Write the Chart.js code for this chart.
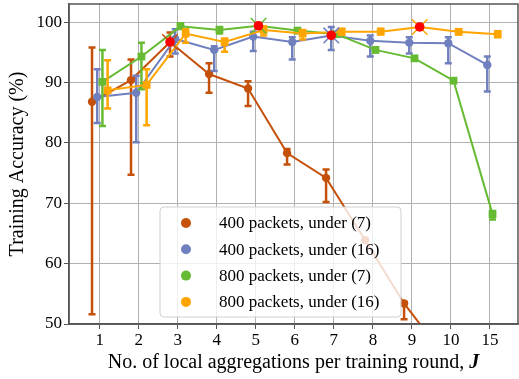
<!DOCTYPE html>
<html>
<head>
<meta charset="utf-8">
<script src="https://cdn.jsdelivr.net/npm/chart.js@4"></script>
<style>
  html, body { margin: 0; padding: 0; background: #fff; }
  #wrap { width: 519px; height: 379px; }
</style>
</head>
<body>
<div id="wrap"><canvas id="accChart" width="519" height="379"></canvas></div>
<script>
// x categories (J)
const xLabels = ['1', '2', '3', '4', '5', '6', '7', '8', '9', '10', '15'];
const yTicks = [50, 60, 70, 80, 90, 100];

const seriesNames = [
    '400 packets, under (7)',
    '400 packets, under (16)',
    '800 packets, under (7)',
    '800 packets, under (16)'
];

// mean accuracy (%)
const acc400u7  = [86.8, 90.4, 96.7, 91.4, 89.0, 78.3, 74.2, 63.9, 53.4, 45.0, 40.0];
const acc400u16 = [87.6, 88.3, 97.2, 95.4, 97.6, 96.7, 97.8, 96.9, 96.6, 96.5, 92.9];
const acc800u7  = [90.1, 94.3, 99.3, 98.7, 99.4, 98.6, 98.0, 95.4, 94.0, 90.3, 68.2];
const acc800u16 = [88.7, 89.6, 98.1, 96.7, 98.7, 98.1, 98.4, 98.4, 99.2, 98.4, 98.0];

// error bar ranges
const low400u7   = [51.6, 74.7, 94.3, 88.3, 86.1, 76.4, 70.2, 63.9, 50.8, 45.0, 40.0];
const high400u7  = [95.8, 93.8, 98.3, 93.2, 90.2, 79.0, 75.6, 63.9, 53.7, 45.0, 40.0];
const low400u16  = [83.3, 80.1, 94.8, 91.9, 95.2, 93.8, 95.4, 94.3, 94.8, 93.2, 88.5];
const high400u16 = [92.2, 91.1, 98.8, 96.0, 98.4, 97.5, 99.2, 97.8, 97.5, 97.5, 94.3];
const low800u7   = [82.8, 88.9, 99.0, 98.1, 99.0, 98.2, 97.6, 95.0, 93.7, 90.0, 67.3];
const high800u7  = [95.4, 96.6, 99.8, 99.2, 99.8, 99.0, 98.4, 95.8, 94.3, 90.6, 68.7];
const low800u16  = [85.7, 82.9, 96.6, 95.1, 97.8, 97.1, 97.9, 98.0, 98.8, 98.0, 97.5];
const high800u16 = [93.7, 92.2, 98.8, 97.3, 99.3, 98.7, 98.9, 98.9, 99.6, 98.8, 98.5];

const means = [acc400u7, acc400u16, acc800u7, acc800u16];
const lows = [low400u7, low400u16, low800u7, low800u16];
const highs = [high400u7, high400u16, high800u7, high800u16];
const colors = ['#c4500a', '#7080bf', '#66bb33', '#ffa500'];
const shifts = [-0.2, -0.067, 0.067, 0.2];
const markers = ['circle', 'circle', 'rect', 'rect'];

const FONT = "'Liberation Serif', 'Times New Roman', serif";

function pts(arr, k) {
    return arr.map((v, i) => ({ x: i + shifts[k], y: v }));
}

// best point of each series
const bestPts = means.map((arr, k) => {
    let b = 0;
    arr.forEach((v, i) => { if (v > arr[b]) b = i; });
    return { x: b + shifts[k], y: arr[b] };
});

const datasets = means.map((arr, k) => ({
    label: seriesNames[k],
    data: pts(arr, k),
    borderColor: colors[k],
    backgroundColor: colors[k],
    borderWidth: 2,
    pointStyle: markers[k],
    pointRadius: markers[k] === 'rect' ? 5.5 : 4.2,
    pointBorderWidth: 0,
    order: 10 - k,
    errIdx: k
}));

datasets.push({
    label: 'best-cross',
    data: bestPts,
    showLine: false,
    pointStyle: 'crossRot',
    pointRadius: 11,
    pointBorderColor: colors,
    pointBorderWidth: 1.5,
    order: 1
});
datasets.push({
    label: 'best',
    data: bestPts,
    showLine: false,
    pointStyle: 'circle',
    pointRadius: 4.8,
    pointBackgroundColor: '#ff0000',
    pointBorderWidth: 0,
    order: 0
});

// error bars drawn right after each series
const errorBars = {
    id: 'errorBars',
    afterDatasetDraw(chart, args) {
        const ds = chart.data.datasets[args.index];
        if (ds.errIdx === undefined) return;
        const k = ds.errIdx;
        const { ctx, chartArea, scales } = chart;
        ctx.save();
        ctx.beginPath();
        ctx.rect(chartArea.left, chartArea.top, chartArea.right - chartArea.left, chartArea.bottom - chartArea.top);
        ctx.clip();
        ctx.strokeStyle = colors[k];
        ctx.lineWidth = 2.5;
        lows[k].forEach((lo, i) => {
            const hi = highs[k][i];
            if (hi - lo < 0.05) return;
            const x = scales.x.getPixelForValue(i + shifts[k]);
            const y1 = scales.y.getPixelForValue(lo);
            const y2 = scales.y.getPixelForValue(hi);
            ctx.beginPath();
            ctx.moveTo(x, y1); ctx.lineTo(x, y2);
            ctx.moveTo(x - 3.5, y1); ctx.lineTo(x + 3.5, y1);
            ctx.moveTo(x - 3.5, y2); ctx.lineTo(x + 3.5, y2);
            ctx.stroke();
        });
        ctx.restore();
    }
};

// frame, axis titles and in-plot legend
const decorations = {
    id: 'decorations',
    afterDraw(chart) {
        const { ctx, chartArea } = chart;
        ctx.save();
        ctx.strokeStyle = '#555';
        ctx.lineWidth = 1.5;
        ctx.strokeRect(chartArea.left, chartArea.top, chartArea.right - chartArea.left, chartArea.bottom - chartArea.top);

        // y title
        ctx.fillStyle = '#000';
        ctx.font = '20px ' + FONT;
        ctx.textAlign = 'center';
        ctx.textBaseline = 'middle';
        ctx.save();
        ctx.translate(18, (chartArea.top + chartArea.bottom) / 2);
        ctx.rotate(-Math.PI / 2);
        ctx.fillText('Training Accuracy (%)', 0, 0);
        ctx.restore();

        // x title with italic J
        const main = 'No. of local aggregations per training round, ';
        ctx.font = '20px ' + FONT;
        const w1 = ctx.measureText(main).width;
        ctx.font = 'italic bold 20px ' + FONT;
        const w2 = ctx.measureText('J').width;
        const cx = (chartArea.left + chartArea.right) / 2;
        let x0 = cx - (w1 + w2) / 2;
        ctx.textAlign = 'left';
        ctx.font = '20px ' + FONT;
        ctx.fillText(main, x0, 363);
        ctx.font = 'italic bold 20px ' + FONT;
        ctx.fillText('J', x0 + w1, 363);

        // legend
        const lx = chartArea.left + 91, ly = chartArea.top + 203, lw = 241, lh = 110;
        ctx.beginPath();
        ctx.roundRect(lx, ly, lw, lh, 4);
        ctx.fillStyle = 'rgba(255,255,255,0.8)';
        ctx.fill();
        ctx.strokeStyle = '#d0d0d0';
        ctx.lineWidth = 1;
        ctx.stroke();
        ctx.font = '17px ' + FONT;
        ctx.textBaseline = 'middle';
        seriesNames.forEach((name, k) => {
            const yy = ly + 16 + k * 26.3;
            ctx.beginPath();
            ctx.arc(lx + 26, yy, 5, 0, Math.PI * 2);
            ctx.fillStyle = colors[k];
            ctx.fill();
            ctx.fillStyle = '#000';
            ctx.fillText(name, lx + 59, yy + 1);
        });
        ctx.restore();
    }
};

new Chart(document.getElementById('accChart'), {
    type: 'line',
    data: { datasets: datasets },
    options: {
        responsive: false,
        animation: false,
        layout: { autoPadding: false, padding: { top: 4, right: 1, left: 0, bottom: 0 } },
        plugins: {
            legend: { display: false },
            tooltip: { enabled: false }
        },
        scales: {
            x: {
                type: 'linear',
                min: -0.79,
                max: 10.72,
                afterBuildTicks: (scale) => { scale.ticks = xLabels.map((_, i) => ({ value: i })); },
                afterFit: (scale) => {
                    scale.height = 55;
                    scale.paddingLeft = 0;
                    scale.paddingRight = 0;
                },
                ticks: {
                    callback: (v) => xLabels[v],
                    color: '#000',
                    font: { family: FONT, size: 17 },
                    padding: 1,
                    maxRotation: 0,
                    autoSkip: false
                },
                grid: { color: '#b0b0b0', lineWidth: 1, tickLength: 5, tickColor: '#555' },
                border: { color: '#555', width: 1.5 }
            },
            y: {
                min: 50,
                max: 103,
                afterBuildTicks: (scale) => { scale.ticks = yTicks.map(v => ({ value: v })); },
                afterFit: (scale) => {
                    scale.width = 69;
                    scale.paddingTop = 0;
                    scale.paddingBottom = 0;
                },
                ticks: {
                    color: '#000',
                    font: { family: FONT, size: 17 },
                    padding: 2
                },
                grid: { color: '#b0b0b0', lineWidth: 1, tickLength: 5, tickColor: '#555' },
                border: { color: '#555', width: 1.5 }
            }
        }
    },
    plugins: [errorBars, decorations]
});
</script>
</body>
</html>
